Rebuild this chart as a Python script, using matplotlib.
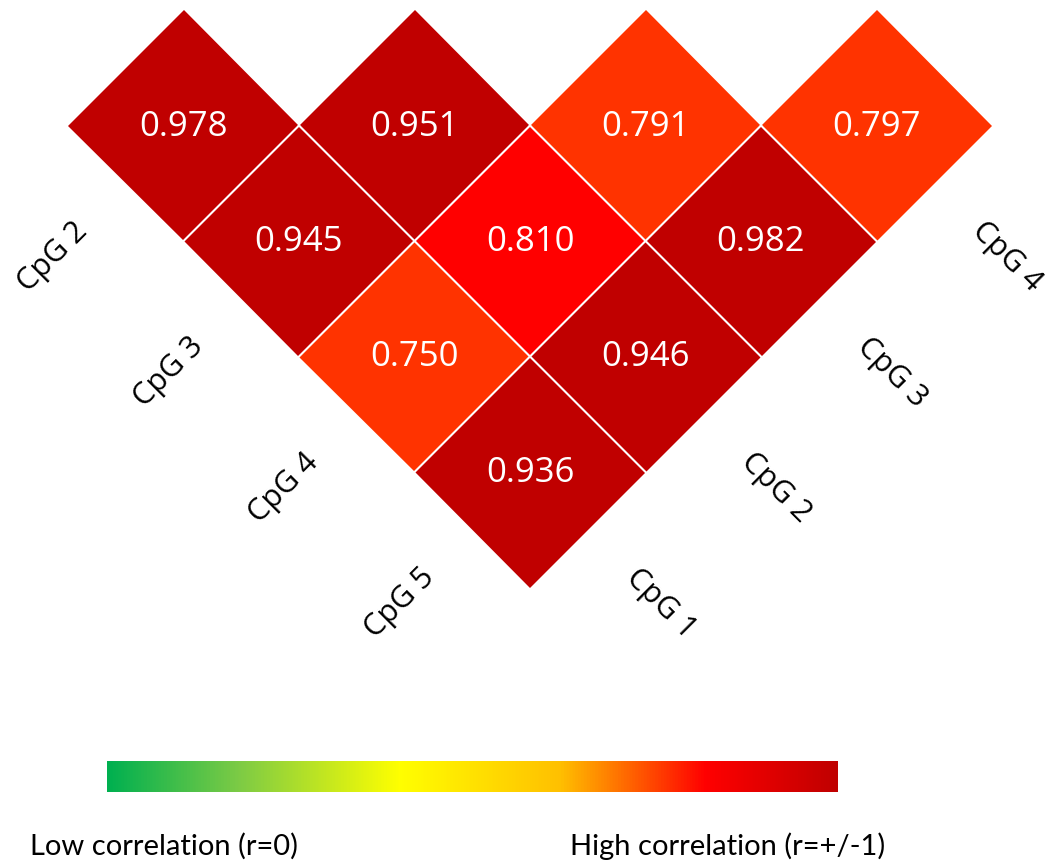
import numpy as np
import matplotlib
matplotlib.use("Agg")
import matplotlib.pyplot as plt
from matplotlib.colors import ListedColormap, BoundaryNorm, LinearSegmentedColormap
from matplotlib.transforms import Affine2D

# lower triangle of the CpG correlation matrix
row_labels = ["CpG 2", "CpG 3", "CpG 4", "CpG 5"]
col_labels = ["CpG 1", "CpG 2", "CpG 3", "CpG 4"]
r_cpg2 = [0.978]
r_cpg3 = [0.945, 0.951]
r_cpg4 = [0.750, 0.810, 0.791]
r_cpg5 = [0.936, 0.946, 0.982, 0.797]

# colour classes used for the cells
bounds = [0.0, 0.8, 0.9, 1.0]
cell_colors = ["#FF3300", "#FF0000", "#C00000"]

rows = [r_cpg2, r_cpg3, r_cpg4, r_cpg5]
n = len(rows)
M = np.full((n, n), np.nan)
for i, r in enumerate(rows):
    M[i, :len(r)] = r
M = np.ma.masked_invalid(M)

W, H = 1051, 862
fig = plt.figure(figsize=(W / 100, H / 100), dpi=100)
ax = fig.add_axes([0, 0, 1, 1])
ax.set_xlim(0, W)
ax.set_ylim(H, 0)
ax.axis("off")

# grid (col, row) -> page, rotated by 45 degrees
s = 115.5
grid = Affine2D(np.array([[s, s, 68.0], [-s, s, 126.5], [0, 0, 1]]))
tr = grid + ax.transData

cmap = ListedColormap(cell_colors)
norm = BoundaryNorm(bounds, cmap.N)
ax.pcolormesh(np.arange(n + 1), np.arange(n + 1), M, cmap=cmap, norm=norm,
              edgecolors="none", antialiased=True, transform=tr)

# white separators between neighbouring cells only
for k in range(1, n):
    ax.plot([k, k], [k, n], color="white", lw=1.5, transform=tr)
    ax.plot([0, k], [k, k], color="white", lw=1.5, transform=tr)

for i in range(n):
    for j in range(n):
        if M.mask[i, j]:
            continue
        x, y = grid.transform((j + 0.5, i + 0.5))
        ax.text(x, y, f"{M[i, j]:.3f}", color="white", fontsize=25,
                family="Open Sans", ha="center", va="center")

# row labels along the lower-left edge, column labels along the lower-right edge
for i, lab in enumerate(row_labels):
    x, y = grid.transform((-0.63, i + 0.5))
    ax.text(x, y, lab, fontsize=22, family="Open Sans", rotation=45,
            rotation_mode="anchor", ha="center", va="center")
for j, lab in enumerate(col_labels):
    x, y = grid.transform((j + 0.5, n + 0.63))
    ax.text(x, y, lab, fontsize=22, family="Open Sans", rotation=-45,
            rotation_mode="anchor", ha="center", va="center")

# colour scale bar
scale = LinearSegmentedColormap.from_list(
    "corr", [(0.0, "#00B050"), (0.18, "#7DCB45"), (0.40, "#FFFF00"),
             (0.62, "#FFC000"), (0.82, "#FF0000"), (1.0, "#C00000")])
cax = fig.add_axes([107 / W, 1 - 793 / H, 731 / W, 31 / H])
cax.imshow(np.linspace(0, 1, 512)[None, :], aspect="auto", cmap=scale)
cax.axis("off")

fig.text(30 / W, 1 - 846 / H, "Low correlation (r=0)", fontsize=21,
         family="Lato", va="center", ha="left")
fig.text(570 / W, 1 - 846 / H, "High correlation (r=+/-1)", fontsize=21,
         family="Lato", va="center", ha="left")

fig.savefig("out.png", dpi=100)
